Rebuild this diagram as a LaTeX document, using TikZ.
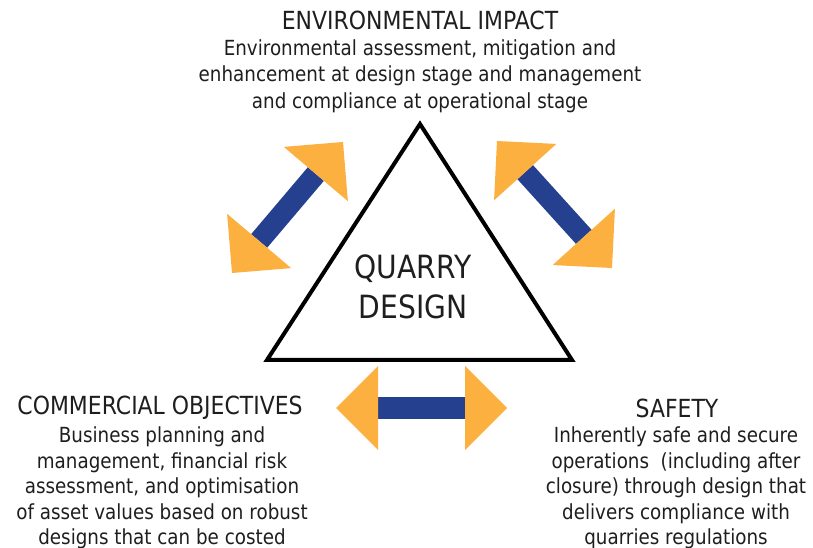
\documentclass[tikz,border=0pt]{standalone}
\usepackage{fontspec}
\setmainfont{DejaVu Sans}[FakeStretch=0.88]
\usetikzlibrary{arrows.meta}
\definecolor{qorange}{RGB}{251,176,64}
\definecolor{qblue}{RGB}{36,64,142}
\definecolor{qtext}{RGB}{30,30,30}
\begin{document}
\begin{tikzpicture}[x=0.75pt,y=-0.75pt,
        qhead/.tip={Triangle[length=31.5pt,width=63pt,line width=0pt,color=qorange,fill=qorange]},
        dblarrow/.style={draw=qblue,line width=15.75pt,qhead-qhead},
        headtext/.style={text=qtext,font=\fontsize{18.7}{22}\selectfont},
        blocktext/.style={align=center,text=qtext,font=\fontsize{15.6}{#1}\selectfont},
        blocktext/.default=19.2]
            \useasboundingbox (0,0) rectangle (813,548);

            \node[headtext] (envt) at (420,20) {ENVIRONMENTAL IMPACT};
            \node[blocktext=19.8] (env) at (420,76) {Environmental assessment, mitigation and\\enhancement at design stage and management\\and compliance at operational stage};
            \node[headtext] (commt) at (160,408) {COMMERCIAL OBJECTIVES};
            \node[blocktext] (comm) at (162,488) {Business planning and\\management, financial risk\\assessment, and optimisation\\of asset values based on robust\\designs that can be costed};
            \node[headtext] (safet) at (677,408) {SAFETY};
            \node[blocktext] (safe) at (676,488) {Inherently safe and secure\\operations~ (including after\\closure) through design that\\delivers compliance with\\quarries regulations};
            \node[align=center,text=qtext,font=\fontsize{24}{29.5}\selectfont] (qd) at (413,287) {QUARRY\\DESIGN};

            \coordinate (top) at (420,124);
            \coordinate (bl) at (267,360);
            \coordinate (br) at (572,360);
            \draw[line width=3pt,line join=miter] (top) to (bl) to (br) to cycle;

            \coordinate (l1) at (232,273); \coordinate (l2) at (343,142);
            \coordinate (r1) at (497,141); \coordinate (r2) at (612,268);
            \coordinate (b1) at (336,408); \coordinate (b2) at (507,408);

            \draw[dblarrow] (l1) to (l2);
            \draw[dblarrow] (r1) to (r2);
            \draw[dblarrow] (b1) to (b2);
        \end{tikzpicture}
\end{document}
